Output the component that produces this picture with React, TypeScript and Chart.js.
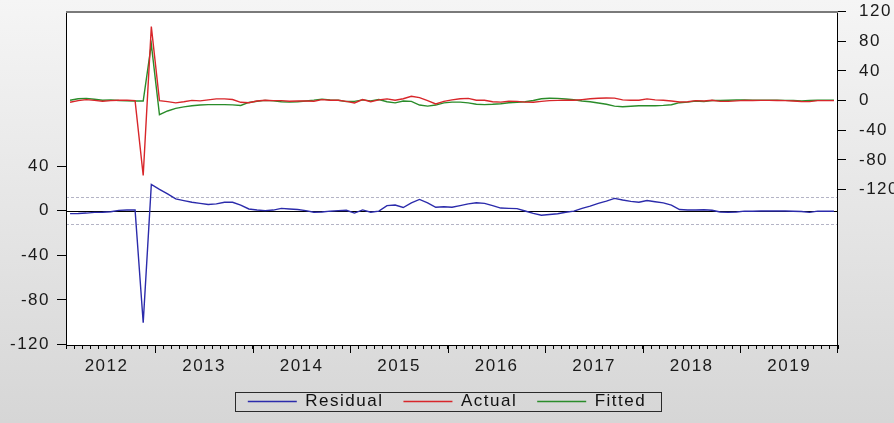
import { useEffect, useRef } from 'react';
import { Chart, registerables } from 'chart.js';

Chart.register(...registerables);

// ---------- data ----------
const yearLabels = ['2012', '2013', '2014', '2015', '2016', '2017', '2018', '2019'];
const firstMonth = 2; // sample starts 2012M02, ends 2019M12

const residual = [
  -2.7, -2.6, -2.2, -1.6, -1.4, -1.0, 0.2, 0.6, 0.6, -100.5, 23.5,
  19, 15, 10.5, 9, 7.5, 6.5, 5.5, 6, 7.5, 7.5, 5, 1.5,
  0.5, 0, 0.5, 2, 1.5, 1, 0, -1.5, -1.2, -0.5, 0, 0.3,
  -2.2, 0.6, -1.5, -0.5, 4.5, 5, 2.8, 7, 10, 7, 3, 3.5,
  3, 4.5, 6, 7, 6.5, 4.5, 2.3, 2, 1.8, -0.3, -2.5, -4.2,
  -3.5, -2.8, -1.5, -0.5, 2, 4, 6.5, 8.5, 11, 9.5, 8.3, 7.5,
  9, 8, 7, 5, 1, 0.5, 0.5, 0.8, 0.3, -1.2, -1.5, -1.2,
  -0.5, -0.5, -0.3, -0.3, -0.3, -0.3, -0.6, -0.8, -1.6, -0.5, -0.6, -0.6,
];

const actual = [
  -2.2, 0, 1.3, 0.3, -0.9, 0, 0.4, 0.4, 0, -101, 100,
  0, -1.4, -3, -1.5, 0.3, -0.3, 1, 2.3, 2.3, 1.5, -2.3, -2.8,
  -0.5, 0.5, 0, 0, -0.9, -0.5, -0.5, -0.8, 1.3, 0.5, 0.5, -1,
  -3.2, 1.4, -1.5, 1, 2.3, 0.5, 2.5, 5.9, 4, 0, -4.5, -1,
  1, 2.5, 3, 0.5, 0.5, -1.5, -2, -0.9, -1, -2, -2.3, -1,
  0, 0.3, 0.5, 0.5, 1.4, 2.5, 3.2, 3.6, 3.4, 1, 0.5, 0.5,
  2.3, 1, 0.5, -0.5, -1.8, -1.5, 0, -0.5, 0.5, -1, -1, -0.3,
  0.3, 0.2, 0.3, 0.3, 0.2, 0, -0.5, -1.2, -1.4, 0, 0, 0,
];

const fitted = [
  0.5, 2.5, 3, 1.8, 0.5, 1, 0.2, -0.2, -0.6, -0.5, 76,
  -19, -14, -10.5, -8.5, -7, -6, -5.4, -5.4, -5.4, -5.8, -6.5, -2.5,
  -0.8, 0.3, -0.3, -1.5, -2, -1.5, -0.5, 0.6, 2, 1, 0.5, -1.3,
  -1, 1, -0.3, 1.5, -1.5, -3, -0.5, -1, -6, -7.5, -6, -3,
  -2, -2, -3, -5, -5.4, -5, -4.2, -2.9, -2.3, -1.5, 0.2, 2.5,
  3.2, 3, 2.2, 1.2, -0.5, -1.5, -3.3, -5, -7.4, -8.3, -7.6, -7,
  -6.8, -7, -6.5, -5.5, -2.8, -2, -0.5, -1.3, 0.2, 0.2, 0.5, 0.9,
  0.8, 0.7, 0.6, 0.6, 0.5, 0.3, 0.1, -0.4, 0.2, 0.5, 0.6, 0.6,
];

const residualSE = 12;
const leftTicks = [-120, -80, -40, 0, 40];
const rightTicks = [-120, -80, -40, 0, 40, 80, 120];

const months: string[] = [];
yearLabels.forEach((y, yi) => {
  for (let m = yi === 0 ? firstMonth : 1; m <= 12; m++) {
    months.push(`${y}M${String(m).padStart(2, '0')}`);
  }
});

// ---------- styles ----------
const FONT = "'Liberation Sans', Arial, sans-serif";
const TEXT = '#1a1a1a';
const BLUE = '#2b2bab';
const RED = '#d8262a';
const GREEN = '#2a8c2a';
const seriesColors = [BLUE, RED, GREEN];

const spacingPlugin = {
  id: 'spacing',
  beforeUpdate(chart: any) {
    try { chart.ctx.letterSpacing = '1.5px'; } catch (e) { /* ignore */ }
  },
};

const backgroundPlugin = {
  id: 'bg',
  beforeDraw(chart: any) {
    const { ctx, width, height, chartArea } = chart;
    ctx.save();
    const g = ctx.createLinearGradient(0, 0, 0, height);
    g.addColorStop(0, '#f5f5f5');
    g.addColorStop(1, '#d6d6d6');
    ctx.fillStyle = g;
    ctx.fillRect(0, 0, width, height);
    ctx.fillStyle = '#ffffff';
    ctx.fillRect(chartArea.left, chartArea.top, chartArea.right - chartArea.left, chartArea.bottom - chartArea.top);
    ctx.restore();
  },
};

const refLinesPlugin = {
  id: 'refLines',
  beforeDatasetsDraw(chart: any) {
    const { ctx, chartArea } = chart;
    const yL = chart.scales.yL;
    ctx.save();
    ctx.lineWidth = 1;
    ctx.strokeStyle = '#b4b4c6';
    ctx.setLineDash([3, 2]);
    [residualSE, -residualSE].forEach((v) => {
      const y = Math.round(yL.getPixelForValue(v)) + 0.5;
      ctx.beginPath();
      ctx.moveTo(chartArea.left, y);
      ctx.lineTo(chartArea.right, y);
      ctx.stroke();
    });
    ctx.setLineDash([]);
    ctx.strokeStyle = '#000000';
    const y0 = Math.round(yL.getPixelForValue(0)) + 0.5;
    ctx.beginPath();
    ctx.moveTo(chartArea.left, y0);
    ctx.lineTo(chartArea.right, y0);
    ctx.stroke();
    ctx.restore();
  },
};

const framePlugin = {
  id: 'frame',
  afterDatasetsDraw(chart: any) {
    const { ctx, chartArea } = chart;
    const { left, right, top, bottom } = chartArea;
    const x = chart.scales.x;
    ctx.save();
    ctx.strokeStyle = '#000';
    ctx.lineWidth = 1;
    ctx.beginPath();
    ctx.moveTo(Math.round(left) + 0.5, top);
    ctx.lineTo(Math.round(left) + 0.5, Math.round(bottom) + 0.5);
    ctx.lineTo(Math.round(right) - 0.5, Math.round(bottom) + 0.5);
    ctx.lineTo(Math.round(right) - 0.5, top);
    ctx.stroke();
    ctx.strokeStyle = '#7a7a7a';
    ctx.lineWidth = 2;
    ctx.beginPath();
    ctx.moveTo(left, Math.round(top) + 1);
    ctx.lineTo(right, Math.round(top) + 1);
    ctx.stroke();
    // year boundary (major) tick marks
    ctx.strokeStyle = '#000';
    ctx.lineWidth = 1;
    const half = (x.getPixelForValue(1) - x.getPixelForValue(0)) / 2;
    months.forEach((m, i) => {
      if (m.endsWith('M01')) {
        const px = Math.round(x.getPixelForValue(i) - half) + 0.5;
        ctx.beginPath();
        ctx.moveTo(px, bottom);
        ctx.lineTo(px, bottom + 8);
        ctx.stroke();
      }
    });
    const pEnd = Math.round(x.getPixelForValue(months.length - 1) + half) - 0.5;
    ctx.beginPath();
    ctx.moveTo(pEnd, bottom);
    ctx.lineTo(pEnd, bottom + 8);
    ctx.stroke();
    ctx.restore();
  },
};

const legendBoxPlugin = {
  id: 'legendBox',
  afterDraw(chart: any) {
    const lg = chart.legend;
    if (!lg || !lg.legendHitBoxes || !lg.legendHitBoxes.length) return;
    const hb = lg.legendHitBoxes;
    const first = hb[0];
    const last = hb[hb.length - 1];
    const l = Math.round(first.left - 13) + 0.5;
    const r = Math.round(last.left + last.width + 15) + 0.5;
    const cy = first.top + first.height / 2;
    const t = Math.round(cy - 10) + 0.5;
    const b = Math.round(cy + 9) + 0.5;
    const { ctx } = chart;
    ctx.save();
    ctx.strokeStyle = '#2a2a2a';
    ctx.lineWidth = 1;
    ctx.strokeRect(l, t, r - l, b - t);
    ctx.restore();
  },
};

const noPadV = (s: any) => { s.paddingTop = 0; s.paddingBottom = 0; };

export default function App() {
  const ref = useRef<HTMLCanvasElement | null>(null);

  useEffect(() => {
    if (!ref.current) return;
    Chart.defaults.font.family = FONT;
    Chart.defaults.font.size = 17;
    Chart.defaults.color = TEXT;

    const lineDs = (label: string, data: number[], color: string, axis: string) => ({
      label,
      data,
      yAxisID: axis,
      borderColor: color,
      backgroundColor: color,
      borderWidth: 1.4,
      pointRadius: 0,
      pointHoverRadius: 0,
      tension: 0,
      fill: false,
    });

    const font = { size: 17, family: FONT };

    const chart = new Chart(ref.current, {
      type: 'line',
      data: {
        labels: months,
        datasets: [
          lineDs('Residual', residual, BLUE, 'yL'),
          lineDs('Actual', actual, RED, 'yR'),
          lineDs('Fitted', fitted, GREEN, 'yR'),
        ],
      },
      options: {
        responsive: false,
        animation: false,
        events: [],
        layout: { padding: { top: 11, bottom: 3, left: 0, right: 0 } },
        plugins: {
          tooltip: { enabled: false },
          legend: {
            position: 'bottom',
            labels: {
              usePointStyle: true,
              pointStyle: 'line',
              pointStyleWidth: 49,
              boxWidth: 49,
              boxHeight: 17,
              padding: 20,
              color: '#111',
              font,
              generateLabels: (c: any) =>
                c.data.datasets.map((ds: any, i: number) => ({
                  text: ds.label,
                  fillStyle: seriesColors[i],
                  strokeStyle: seriesColors[i],
                  lineWidth: 1.5,
                  pointStyle: 'line',
                  hidden: false,
                  datasetIndex: i,
                  fontColor: '#111',
                })),
            },
          },
        },
        scales: {
          x: {
            type: 'category',
            offset: true,
            grid: {
              display: true,
              offset: true,
              drawOnChartArea: false,
              drawTicks: true,
              tickLength: 4,
              tickColor: '#000',
              tickWidth: 1,
            },
            border: { display: false },
            ticks: {
              autoSkip: false,
              maxRotation: 0,
              minRotation: 0,
              padding: 7,
              labelOffset: 4,
              color: TEXT,
              font,
              callback: (_v: any, i: number) => (months[i].endsWith('M06') ? months[i].slice(0, 4) : ''),
            },
            afterFit: (s: any) => { s.height = 28; s.paddingLeft = 0; s.paddingRight = 0; },
          },
          yL: {
            type: 'linear',
            position: 'left',
            min: -120.5,
            max: 179,
            afterBuildTicks: (s: any) => { s.ticks = leftTicks.map((v) => ({ value: v })); },
            grid: { display: true, drawOnChartArea: false, drawTicks: true, tickLength: 9, tickColor: '#000' },
            border: { display: false },
            ticks: { padding: 7, color: TEXT, font, callback: (v: any) => String(v) },
            afterFit: (s: any) => { s.width = 66; noPadV(s); },
          },
          yR: {
            type: 'linear',
            position: 'right',
            min: -330,
            max: 121,
            afterBuildTicks: (s: any) => { s.ticks = rightTicks.map((v) => ({ value: v })); },
            grid: { display: true, drawOnChartArea: false, drawTicks: true, tickLength: 8, tickColor: '#000' },
            border: { display: false },
            ticks: { padding: 13, color: TEXT, font, callback: (v: any) => String(v) },
            afterFit: (s: any) => { s.width = 56; noPadV(s); },
          },
        },
      } as any,
      plugins: [spacingPlugin, backgroundPlugin, refLinesPlugin, framePlugin, legendBoxPlugin],
    });

    return () => chart.destroy();
  }, []);

  return (
    <div style={{ position: 'fixed', left: 0, top: 0, width: 894, height: 423, overflow: 'hidden' }}>
      <canvas ref={ref} width={894} height={423} style={{ display: 'block', width: 894, height: 423 }} />
    </div>
  );
}
